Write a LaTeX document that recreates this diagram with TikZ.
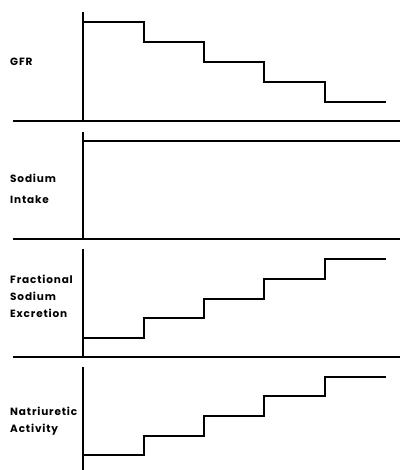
\documentclass[tikz,border=0pt]{standalone}
\usepackage{fontspec}
\setmainfont{Poppins}[LetterSpace=8]
\usetikzlibrary{positioning}

\tikzset{
  trace/.style={line width=1.1pt},
  panel label/.style={anchor=west,align=left,inner sep=0pt,
    font=\bfseries\fontsize{10.5}{17}\selectfont}
}

\begin{document}
\begin{tikzpicture}[x=1pt,y=-1pt]
	\useasboundingbox (0,0) rectangle (400,470);
	% axes of the four panels
	\foreach \top/\base in {12/121,132/239,249/357}
	{
		\draw[trace] (83,\top) -- (83,\base);
		\draw[trace] (13,\base) -- (400,\base);
	}
	\draw[trace] (83,367) -- (83,470);
	% labels
	\node[panel label] (gfr) at (10,62) {GFR};
	\node[panel label] (intake) at (10,189) {Sodium\\[4pt]Intake};
	\node[panel label] (excretion) at (10,296) {Fractional\\Sodium\\Excretion};
	\node[panel label] (activity) at (10,421) {Natriuretic\\Activity};
	% curves
	\draw[trace] (83,22) -| (144,42) -| (204,62) -| (264,82) -| (325,102) -- (386,102);
	\draw[trace] (83,141) -- (400,141);
	\draw[trace] (83,338) -| (144,318) -| (204,299) -| (264,279) -| (325,259) -- (386,259);
	\draw[trace] (83,455) -| (144,436) -| (204,416) -| (264,396) -| (325,377) -- (386,377);
\end{tikzpicture}
\end{document}
